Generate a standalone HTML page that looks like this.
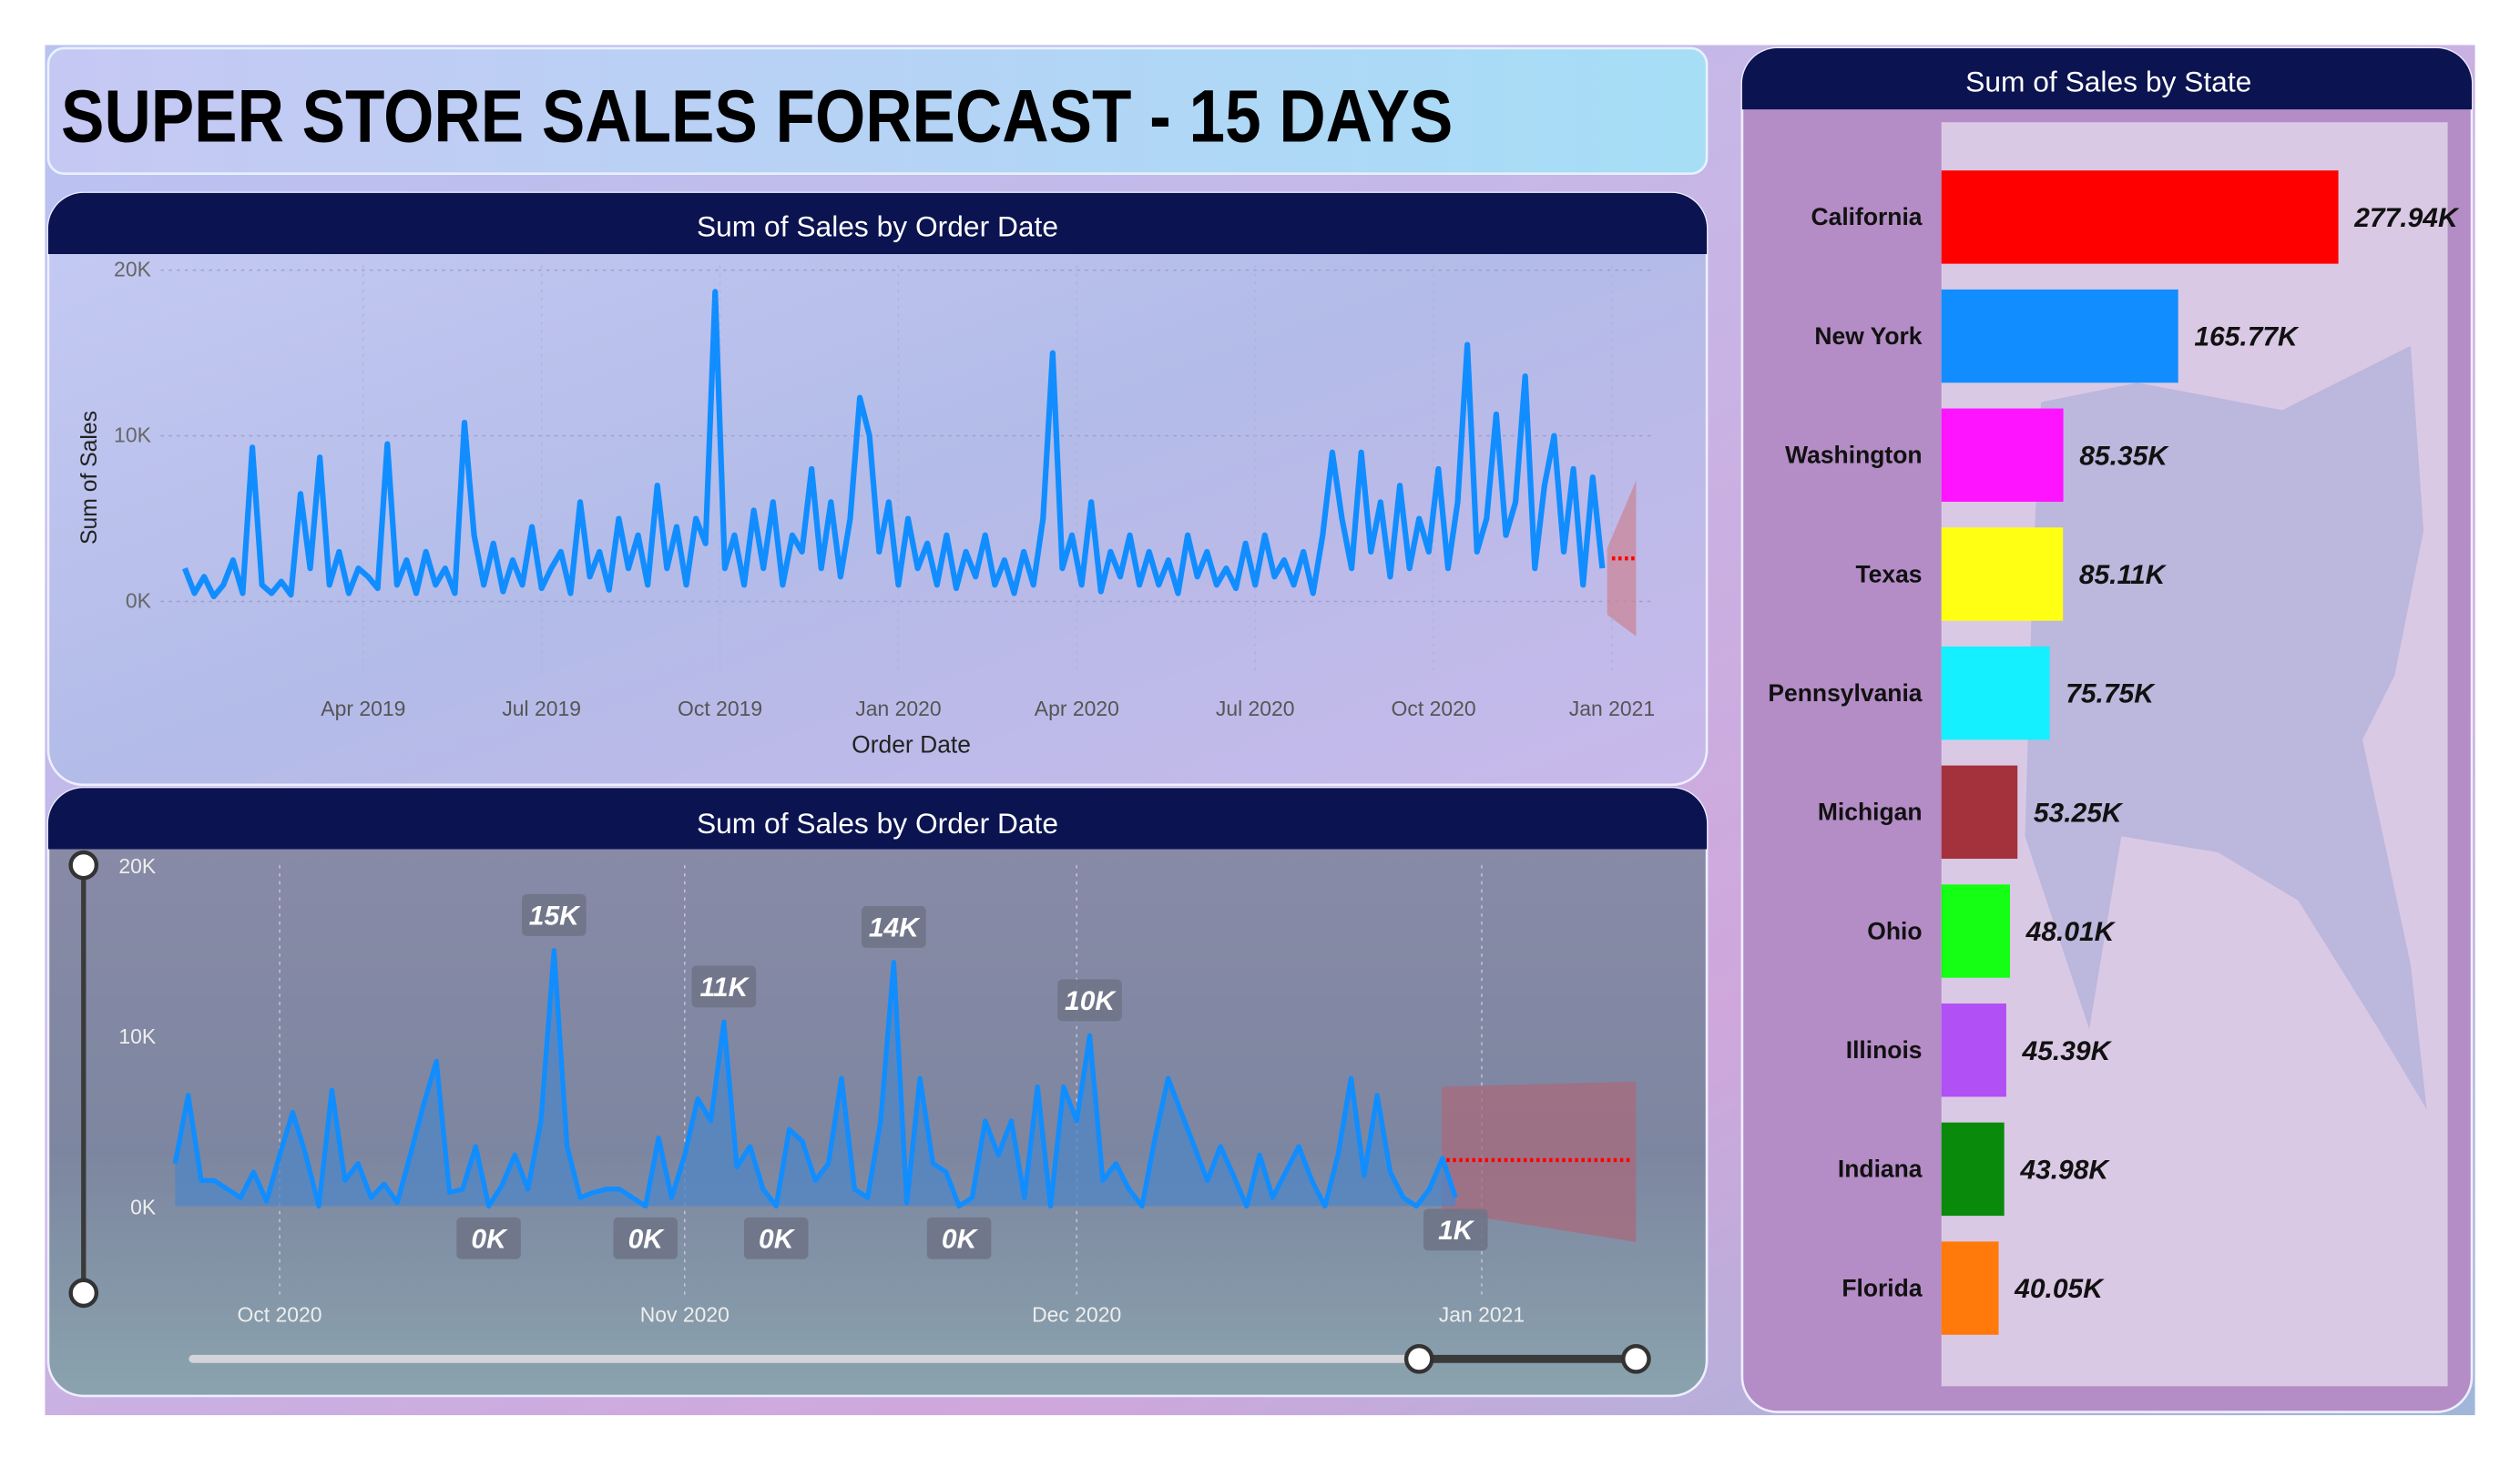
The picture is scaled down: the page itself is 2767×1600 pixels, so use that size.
<!DOCTYPE html>
<html><head><meta charset="utf-8"><style>
html,body{margin:0;padding:0;width:2767px;height:1600px;overflow:hidden;background:#fff}
svg{display:block}
text{font-family:"Liberation Sans",sans-serif}
</style></head><body>
<svg id="s" width="2767" height="1600" viewBox="0 0 1568 906" preserveAspectRatio="none">
<defs>
<linearGradient id="bg" x1="0" y1="0" x2="1" y2="1">
<stop offset="0" stop-color="#b9c3f2"/><stop offset="0.4" stop-color="#c7b6e6"/><stop offset="0.7" stop-color="#cfa7dc"/><stop offset="1" stop-color="#9fb7d9"/></linearGradient>
<linearGradient id="tp" x1="0" y1="0" x2="1" y2="0"><stop offset="0" stop-color="#c6c8f4"/><stop offset="1" stop-color="#a6def6"/></linearGradient>
<linearGradient id="p1" x1="0" y1="0" x2="1" y2="1"><stop offset="0" stop-color="#c5cbf3"/><stop offset="0.5" stop-color="#b3bbe8"/><stop offset="1" stop-color="#c8b9ea"/></linearGradient>
<linearGradient id="p2" x1="0" y1="0" x2="0" y2="1"><stop offset="0" stop-color="#8a8ba8"/><stop offset="0.6" stop-color="#7d86a0"/><stop offset="1" stop-color="#8aa3ae"/></linearGradient>
</defs>
<rect x="28" y="28" width="1512" height="852" fill="url(#bg)"/>
<g>
<rect x="30" y="30" width="1032" height="78" rx="10" fill="url(#tp)" stroke="#e8f2ff" stroke-width="1.5"/>
<text x="38" y="88" font-size="46" font-weight="bold" fill="#000" textLength="866" lengthAdjust="spacingAndGlyphs">SUPER STORE SALES FORECAST - 15 DAYS</text>
</g>
<g>
<rect x="30" y="120" width="1032" height="368" rx="22" fill="url(#p1)" stroke="#eef" stroke-width="1.5"/>
<path d="M52,120 H1040 A22,22 0 0 1 1062,142 V158 H30 V142 A22,22 0 0 1 52,120 Z" fill="#0b1350"/>
<text x="546" y="147" font-size="18" fill="#fff" text-anchor="middle">Sum of Sales by Order Date</text>
<g id="g1"></g>
</g>
<g>
<rect x="30" y="490" width="1032" height="378" rx="22" fill="url(#p2)" stroke="#eef" stroke-width="1.5"/>
<path d="M52,490 H1040 A22,22 0 0 1 1062,512 V528 H30 V512 A22,22 0 0 1 52,490 Z" fill="#0b1350"/>
<text x="546" y="518" font-size="18" fill="#fff" text-anchor="middle">Sum of Sales by Order Date</text>
<g id="g2"></g>
<line x1="52" y1="538" x2="52" y2="804" stroke="#3a3a3a" stroke-width="3"/>
<circle cx="52" cy="538" r="8" fill="#fff" stroke="#333" stroke-width="2.5"/>
<circle cx="52" cy="804" r="8" fill="#fff" stroke="#333" stroke-width="2.5"/>
<line x1="120" y1="845" x2="883" y2="845" stroke="#d4d4d8" stroke-width="5" stroke-linecap="round"/>
<line x1="883" y1="845" x2="1018" y2="845" stroke="#3a3a3a" stroke-width="5"/>
<circle cx="883" cy="845" r="8" fill="#fff" stroke="#333" stroke-width="2.5"/>
<circle cx="1018" cy="845" r="8" fill="#fff" stroke="#333" stroke-width="2.5"/>
</g>
<g>
<rect x="1084" y="30" width="454" height="848" rx="22" fill="#b48cc6" stroke="#eef" stroke-width="1.5"/>
<path d="M1106,30 H1516 A22,22 0 0 1 1538,52 V68 H1084 V52 A22,22 0 0 1 1106,30 Z" fill="#0b1350"/>
<text x="1312" y="57" font-size="18" fill="#fff" text-anchor="middle">Sum of Sales by State</text>
<rect x="1208" y="76" width="315" height="786" fill="#dac9e5"/>
<path d="M1270,250 L1330,238 L1420,255 L1480,225 L1500,215 L1508,330 L1490,420 L1470,460 L1500,600 L1510,690 L1480,640 L1430,560 L1380,530 L1320,520 L1300,640 L1260,520 L1265,350 Z" fill="#a9acd6" opacity="0.6"/>
<g id="g3"></g>
</g>
</svg>
<script>
// ---------- Top chart data ----------
const topValuesK=[2,0.5,1.5,0.3,1,2.5,0.5,9.3,1,0.5,1.2,0.4,6.5,2,8.7,1,3,0.5,2,1.5,0.8,9.5,1,2.5,0.5,3,1,2,0.5,10.8,4,1,3.5,0.6,2.5,1,4.5,0.8,2,3,0.5,6,1.5,3,0.7,5,2,4,1,7,2,4.5,1,5,3.5,18.7,2,4,1,5.5,2,6,1,4,3,8,2,6,1.5,5,12.3,10,3,6,1,5,2,3.5,1,4,0.8,3,1.5,4,1,2.5,0.5,3,1,5,15,2,4,1,6,0.6,3,1.5,4,1,3,1,2.5,0.5,4,1.5,3,1,2,0.8,3.5,1,4,1.5,2.5,1,3,0.5,4,9,5,2,9,3,6,1.5,7,2,5,3,8,2,6,15.5,3,5,11.3,4,6,13.6,2,7,10,3,8,1,7.5,2];
const topYTicks=[0,10,20];
const topYLabels=["0K","10K","20K"];
const topXTickMonths=[3,6,9,12,15,18,21,24];
const topXLabels=["Apr 2019","Jul 2019","Oct 2019","Jan 2020","Apr 2020","Jul 2020","Oct 2020","Jan 2021"];
const topForecastK=[2.6,2.6];
// ---------- Bottom chart data ----------
const botValuesK=[2.5,6.5,1.5,1.5,1,0.5,2,0.3,3,5.5,3,0,6.8,1.5,2.5,0.5,1.3,0.2,3,5.9,8.5,0.8,1,3.5,0,1.2,3,1,5,15,3.5,0.5,0.8,1,1,0.5,0,4,0.5,3,6.3,5,10.8,2.3,3.5,1,0,4.5,3.8,1.5,2.5,7.5,1,0.5,5,14.3,0.2,7.5,2.5,2,0,0.5,5,3,5,0.5,7,0,7,5,10,1.5,2.5,1,0,4,7.5,5.5,3.5,1.5,3.5,1.8,0,3,0.5,2,3.5,1.5,0,3,7.5,1.8,6.5,2,0.5,0,1,2.8,0.5];
const botStartDay=-8; // days relative to Oct 1 2020
const botYTicks=[0,10,20];
const botYLabels=["0K","10K","20K"];
const botXTickDays=[0,31,61,92];
const botXLabels=["Oct 2020","Nov 2020","Dec 2020","Jan 2021"];
const botLabelIdx=[29,42,55,70,24,36,46,60,botValuesK.length-1];
const botForecastK=[2.7,2.7];
// ---------- State bar data ----------
const states=["California","New York","Washington","Texas","Pennsylvania","Michigan","Ohio","Illinois","Indiana","Florida"];
const stateSalesK=[277.94,165.77,85.35,85.11,75.75,53.25,48.01,45.39,43.98,40.05];
const stateColors=["#ff0000","#118dff","#ff14ff","#ffff14","#14f0ff","#a3323c","#14ff14","#b150f5","#0a8a0a","#ff7a0a"];

const NS="http://www.w3.org/2000/svg";
function mk(p,tag,attrs){const e=document.createElementNS(NS,tag);for(const k in attrs)e.setAttribute(k,attrs[k]);p.appendChild(e);return e;}

// Top chart
(function(){
const g=document.getElementById('g1');
const x=m=>115+m*37.0;
const xi=i=>115+i*(888/(topValuesK.length));
const y=v=>374-v*10.3;
topYTicks.forEach((t,i)=>{
 const l=mk(g,'line',{x1:100,x2:1030,y1:y(t),y2:y(t),stroke:'#9aa0c8','stroke-dasharray':'2,3','stroke-width':0.8});
 
 
 const tx=mk(g,'text',{x:94,y:y(t)+4,'font-size':13,fill:'#666','text-anchor':'end'});tx.textContent=topYLabels[i];
 
 
});
topXTickMonths.forEach((m,i)=>{
 const l=mk(g,'line',{x1:x(m),x2:x(m),y1:165,y2:420,stroke:'#b0b4d8','stroke-dasharray':'2,3','stroke-width':0.8});
 
 
 const tx=mk(g,'text',{x:x(m),y:445,'font-size':13,fill:'#555','text-anchor':'middle'});tx.textContent=topXLabels[i];
 
 
});
const yt=mk(g,'text',{x:0,y:0,'font-size':14,fill:'#222','text-anchor':'middle',transform:'translate(60,297) rotate(-90)'});yt.textContent='Sum of Sales';


const xt=mk(g,'text',{x:567,y:468,'font-size':15,fill:'#222','text-anchor':'middle'});xt.textContent='Order Date';


const band=mk(g,'polygon',{points:`1000,${y(3.2)} 1018,${y(7.3)} 1018,${y(-2.1)} 1000,${y(-0.8)}`,fill:'#c98598',opacity:0.75});


const pts=topValuesK.map((v,i)=>xi(i).toFixed(1)+','+y(v).toFixed(1)).join(' ');
const pl=mk(g,'polyline',{points:pts,fill:'none',stroke:'#118dff','stroke-width':3.5,'stroke-linejoin':'round'});


const fl=mk(g,'line',{x1:1003,x2:1018,y1:y(topForecastK[0]),y2:y(topForecastK[1]),stroke:'#ff0000','stroke-width':2.5,'stroke-dasharray':'2,2'});


})();

// Bottom chart
(function(){
const g=document.getElementById('g2');
const x=d=>174+d*8.13;
const y=v=>750-v*10.6;
botYTicks.forEach((t,i)=>{
 const tx=mk(g,'text',{x:97,y:y(t)+5,'font-size':13,fill:'#eee','text-anchor':'end'});tx.textContent=botYLabels[i];
 
 
});
botXTickDays.forEach((d,i)=>{
 const l=mk(g,'line',{x1:x(d),x2:x(d),y1:538,y2:805,stroke:'#c8c8d8','stroke-dasharray':'2,3','stroke-width':0.8});
 
 
 const tx=mk(g,'text',{x:x(d),y:822,'font-size':13,fill:'#eee','text-anchor':'middle'});tx.textContent=botXLabels[i];
 
 
});
const band=mk(g,'polygon',{points:`897,${y(7)} 1018,${y(7.3)} 1018,${y(-2.1)} 897,${y(-0.3)}`,fill:'#a86a7c',opacity:0.75});


const P=botValuesK.map((v,i)=>[x(botStartDay+i),y(v)]);
const area=mk(g,'polygon',{points:P.map(p=>p.join(',')).join(' ')+` ${P[P.length-1][0]},${y(0)} ${P[0][0]},${y(0)}`,fill:'#4f86c6',opacity:0.75});


const pl=mk(g,'polyline',{points:P.map(p=>p.join(',')).join(' '),fill:'none',stroke:'#118dff','stroke-width':3,'stroke-linejoin':'round'});


const fl=mk(g,'line',{x1:900,x2:1016,y1:y(botForecastK[0]),y2:y(botForecastK[1]),stroke:'#ff0000','stroke-width':2.5,'stroke-dasharray':'2,2'});


botLabelIdx.forEach(i=>{
 const v=botValuesK[i];const px=x(botStartDay+i);
 const above=v>5;
 const cy=above?y(v)-22:y(v)+20;
 const w=40,h=26;
 const r=mk(g,'rect',{x:px-w/2,y:cy-h/2,width:w,height:h,rx:3,fill:'#6f7487',opacity:0.9});
 
 
 const t=mk(g,'text',{x:px,y:cy+6,'font-size':17,'font-weight':'bold','font-style':'italic',fill:'#fff','text-anchor':'middle'});
 t.textContent=Math.max(Math.round(v),v>0&&v<1?1:0)+'K';
 
 
});
})();

// State bars
(function(){
const g=document.getElementById('g3');
const x0=1208,sc=247/277.94;
states.forEach((s,i)=>{
 const yc=135+i*74;
 const b=mk(g,'rect',{x:x0,y:yc-29,width:stateSalesK[i]*sc,height:58,fill:stateColors[i]});
 
 
 const lt=mk(g,'text',{x:1196,y:yc+5,'font-size':15,'font-weight':'bold',fill:'#111','text-anchor':'end'});lt.textContent=s;
 
 
 const vx=Math.min(x0+stateSalesK[i]*sc+10,1522);
 const vt=mk(g,'text',{x:vx,y:yc+6,'font-size':17,'font-weight':'bold','font-style':'italic',fill:'#111','text-anchor':vx>=1522?'end':'start'});
 vt.textContent=stateSalesK[i].toFixed(2)+'K';
 
 
});
})();
</script>
</body></html>
